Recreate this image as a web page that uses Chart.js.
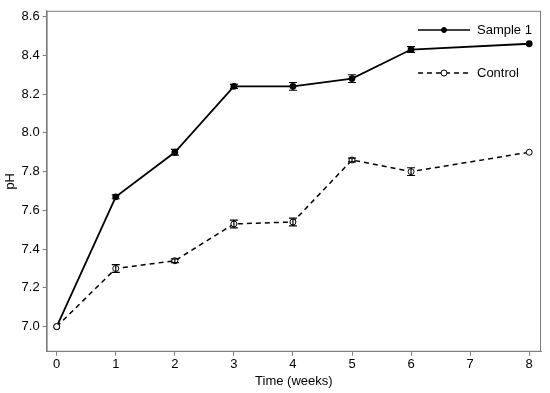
<!DOCTYPE html>
<html>
<head>
<meta charset="utf-8">
<script src="https://cdn.jsdelivr.net/npm/chart.js@4"></script>
<style>
  html, body { margin: 0; padding: 0; background: #fff; }
  #wrap { width: 550px; height: 393px; }
</style>
</head>
<body>
<div id="wrap"><canvas id="phChart" width="550" height="393"></canvas></div>
<script>
// time points (weeks)
const weeks = [0, 1, 2, 3, 4, 5, 6, 8];

// pH readings
const sample1 = [7.00, 7.67, 7.90, 8.24, 8.24, 8.28, 8.43, 8.46];
const control = [7.00, 7.30, 7.34, 7.53, 7.54, 7.86, 7.80, 7.90];

// error bar half-heights
const sample1Err = [0.00, 0.01, 0.015, 0.01, 0.02, 0.02, 0.015, 0.00];
const controlErr = [0.00, 0.02, 0.01, 0.02, 0.02, 0.01, 0.02, 0.00];

const yTicks = [7.0, 7.2, 7.4, 7.6, 7.8, 8.0, 8.2, 8.4, 8.6];

const toPoints = (vals) => weeks.map((w, i) => ({ x: w, y: vals[i] }));

// draws error bars through the scales
const errorBars = {
  id: 'errorBars',
  afterDatasetsDraw(chart) {
    const { ctx, scales: { x, y } } = chart;
    ctx.save();
    ctx.strokeStyle = '#000';
    ctx.lineWidth = 1.2;
    chart.data.datasets.forEach(ds => {
      ds.data.forEach((p, i) => {
        const e = ds.errors[i];
        if (!e) return;
        const px = x.getPixelForValue(p.x);
        const top = y.getPixelForValue(p.y + e);
        const bot = y.getPixelForValue(p.y - e);
        ctx.beginPath();
        ctx.moveTo(px, top); ctx.lineTo(px, bot);
        ctx.moveTo(px - 4, top); ctx.lineTo(px + 4, top);
        ctx.moveTo(px - 4, bot); ctx.lineTo(px + 4, bot);
        ctx.stroke();
      });
    });
    ctx.restore();
  }
};

// box around plot + legend inside top right
const frameAndLegend = {
  id: 'frameAndLegend',
  afterDraw(chart) {
    const { ctx, chartArea: a } = chart;
    ctx.save();
    ctx.strokeStyle = '#7f7f7f';
    ctx.lineWidth = 1;
    ctx.strokeRect(a.left + 0.5, a.top + 0.5, a.right - a.left - 1, a.bottom - a.top - 1);

    ctx.font = '13px "Liberation Sans", Arial, sans-serif';
    ctx.textBaseline = 'middle';
    ctx.fillStyle = '#000';
    ctx.strokeStyle = '#000';

    const items = [
      { label: 'Sample 1', y: 30, dash: [], fill: '#000', r: 2.5 },
      { label: 'Control', y: 73, dash: [5, 4], fill: '#fff', r: 3 }
    ];
    items.forEach(it => {
      ctx.lineWidth = 1.5;
      ctx.setLineDash(it.dash);
      ctx.beginPath();
      ctx.moveTo(418, it.y); ctx.lineTo(470, it.y);
      ctx.stroke();
      ctx.setLineDash([]);
      ctx.beginPath();
      ctx.arc(444, it.y, it.r, 0, Math.PI * 2);
      ctx.fillStyle = it.fill;
      ctx.fill();
      ctx.lineWidth = 1;
      ctx.stroke();
      ctx.fillStyle = '#000';
      ctx.fillText(it.label, 477, it.y);
    });
    ctx.restore();
  }
};

const font = { family: '"Liberation Sans", Arial, sans-serif', size: 13 };

new Chart(document.getElementById('phChart'), {
  type: 'line',
  data: {
    datasets: [
      {
        label: 'Sample 1',
        data: toPoints(sample1),
        errors: sample1Err,
        order: 1,
        borderColor: '#000',
        borderWidth: 1.8,
        pointRadius: 2.5,
        pointBackgroundColor: '#000',
        pointBorderColor: '#000',
        tension: 0
      },
      {
        label: 'Control',
        data: toPoints(control),
        errors: controlErr,
        order: 0,
        borderColor: '#000',
        borderWidth: 1.5,
        borderDash: [5, 4],
        pointRadius: 3,
        pointBackgroundColor: '#fff',
        pointBorderColor: '#000',
        pointBorderWidth: 1,
        tension: 0
      }
    ]
  },
  options: {
    responsive: false,
    animation: false,
    layout: { padding: { top: 9, right: 9, left: 3, bottom: 4 } },
    plugins: {
      legend: { display: false },
      tooltip: { enabled: false }
    },
    scales: {
      x: {
        type: 'linear',
        min: -0.17,
        max: 8.2,
        grid: { drawOnChartArea: false, drawTicks: true, tickLength: 4, color: '#7f7f7f' },
        border: { color: '#7f7f7f' },
        ticks: {
          stepSize: 1,
          includeBounds: false,
          color: '#000',
          font: font,
          padding: 1
        },
        title: { display: true, text: 'Time (weeks)', color: '#000', font: font, padding: { top: 0, bottom: 0 } }
      },
      y: {
        min: 6.87,
        max: 8.63,
        grid: { drawOnChartArea: false, drawTicks: true, tickLength: 4, color: '#7f7f7f' },
        border: { color: '#7f7f7f' },
        afterBuildTicks: (axis) => { axis.ticks = yTicks.map(v => ({ value: v })); },
        ticks: {
          color: '#000',
          font: font,
          padding: 3,
          callback: (v) => v.toFixed(1)
        },
        title: { display: true, text: 'pH', color: '#000', font: font, padding: { top: 0, bottom: 0 } }
      }
    }
  },
  plugins: [errorBars, frameAndLegend]
});
</script>
</body>
</html>
